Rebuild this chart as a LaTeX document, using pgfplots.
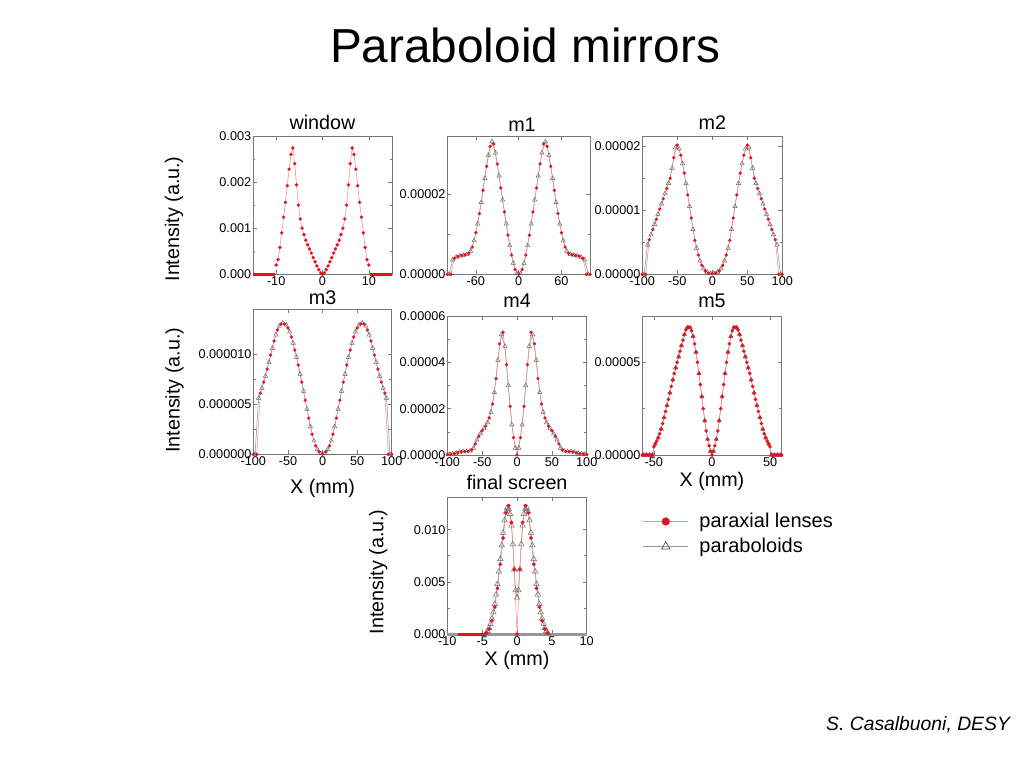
\documentclass[border=0pt]{standalone}
\usepackage{pgfplots}
\pgfplotsset{compat=1.18}
\usepackage{pgfplotstable}
\usepackage{fontspec}
\setmainfont{Liberation Sans}

\definecolor{parax}{RGB}{228,18,30}
\definecolor{paraxline}{RGB}{242,140,140}
\definecolor{parab}{RGB}{105,105,105}
\definecolor{parabline}{RGB}{150,150,150}
\definecolor{framec}{RGB}{120,120,120}

% window (paraxial only)
\pgfplotstableread[row sep=\\]{x y\\
-10 0.0002\\ -9.6 0.00032\\ -9.2 0.00058\\ -8.8 0.0009\\ -8.4 0.00124\\ -8.0 0.00156\\ -7.6 0.00192\\ -7.2 0.00228\\ -6.8 0.0026\\ -6.4 0.00274\\ -6.0 0.0024\\ -5.6 0.00194\\ -5.2 0.0015\\ -4.8 0.0012\\ -4.4 0.001\\ -4.0 0.00086\\ -3.6 0.00074\\ -3.2 0.00064\\ -2.8 0.00055\\ -2.4 0.00046\\ -2.0 0.00036\\ -1.6 0.00027\\ -1.2 0.00018\\ -0.8 0.0001\\ -0.4 0.00003\\ 0 0\\
0.4 0.00003\\ 0.8 0.0001\\ 1.2 0.00018\\ 1.6 0.00027\\ 2.0 0.00036\\ 2.4 0.00046\\ 2.8 0.00055\\ 3.2 0.00064\\ 3.6 0.00074\\ 4.0 0.00086\\ 4.4 0.001\\ 4.8 0.0012\\ 5.2 0.0015\\ 5.6 0.00194\\ 6.0 0.0024\\ 6.4 0.00274\\ 6.8 0.0026\\ 7.2 0.00228\\ 7.6 0.00192\\ 8.0 0.00156\\ 8.4 0.00124\\ 8.8 0.0009\\ 9.2 0.00058\\ 9.6 0.00032\\ 10 0.0002\\
}\tWindow

% m1
\pgfplotstableread[row sep=\\]{x y\\
-100 0\\ -97.5 0\\ -95 0\\ -92.5 3.6e-6\\ -90 4.0e-6\\ -87.5 4.3e-6\\ -85 4.5e-6\\ -82.5 4.6e-6\\ -80 4.7e-6\\ -77.5 4.8e-6\\ -75 4.9e-6\\ -72.5 5.0e-6\\ -70 5.2e-6\\ -67.5 5.8e-6\\ -65 6.8e-6\\ -62.5 8.4e-6\\ -60 10.4e-6\\ -57.5 12.6e-6\\ -55 15.2e-6\\ -52.5 18.0e-6\\ -50 21.0e-6\\ -47.5 24.0e-6\\ -45 27.0e-6\\ -42.5 29.8e-6\\ -40 32.0e-6\\ -37.5 33.2e-6\\ -35 32.6e-6\\ -32.5 30.4e-6\\ -30 27.6e-6\\ -27.5 24.6e-6\\ -25 21.6e-6\\ -22.5 18.6e-6\\ -20 15.6e-6\\ -17.5 12.6e-6\\ -15 9.8e-6\\ -12.5 7.2e-6\\ -10 4.8e-6\\ -7.5 2.8e-6\\ -5 1.2e-6\\ -2.5 0.2e-6\\ 0 0\\
2.5 0.2e-6\\ 5 1.2e-6\\ 7.5 2.8e-6\\ 10 4.8e-6\\ 12.5 7.2e-6\\ 15 9.8e-6\\ 17.5 12.6e-6\\ 20 15.6e-6\\ 22.5 18.6e-6\\ 25 21.6e-6\\ 27.5 24.6e-6\\ 30 27.6e-6\\ 32.5 30.4e-6\\ 35 32.6e-6\\ 37.5 33.2e-6\\ 40 32.0e-6\\ 42.5 29.8e-6\\ 45 27.0e-6\\ 47.5 24.0e-6\\ 50 21.0e-6\\ 52.5 18.0e-6\\ 55 15.2e-6\\ 57.5 12.6e-6\\ 60 10.4e-6\\ 62.5 8.4e-6\\ 65 6.8e-6\\ 67.5 5.8e-6\\ 70 5.2e-6\\ 72.5 5.0e-6\\ 75 4.9e-6\\ 77.5 4.8e-6\\ 80 4.7e-6\\ 82.5 4.6e-6\\ 85 4.5e-6\\ 87.5 4.3e-6\\ 90 4.0e-6\\ 92.5 3.6e-6\\ 95 0\\ 97.5 0\\ 100 0\\
}\tMone

% m2
\pgfplotstableread[row sep=\\]{x y\\
-100 0\\ -97.5 0\\ -95 0\\ -92.5 4.6e-6\\ -90 5.4e-6\\ -87.5 6.2e-6\\ -85 7.0e-6\\ -82.5 7.8e-6\\ -80 8.6e-6\\ -77.5 9.4e-6\\ -75 10.2e-6\\ -72.5 11.0e-6\\ -70 11.8e-6\\ -67.5 12.6e-6\\ -65 13.4e-6\\ -62.5 14.2e-6\\ -60 15.0e-6\\ -57.5 16.6e-6\\ -55 18.2e-6\\ -52.5 19.8e-6\\ -50 20.2e-6\\ -47.5 19.6e-6\\ -45 18.6e-6\\ -42.5 17.3e-6\\ -40 15.8e-6\\ -37.5 14.2e-6\\ -35 12.4e-6\\ -32.5 10.6e-6\\ -30 8.8e-6\\ -27.5 7.0e-6\\ -25 5.3e-6\\ -22.5 4.1e-6\\ -20 3.0e-6\\ -17.5 2.1e-6\\ -15 1.4e-6\\ -12.5 0.9e-6\\ -10 0.5e-6\\ -7.5 0.35e-6\\ -5 0.2e-6\\ -2.5 0.15e-6\\ 0 0.1e-6\\
2.5 0.15e-6\\ 5 0.2e-6\\ 7.5 0.35e-6\\ 10 0.5e-6\\ 12.5 0.9e-6\\ 15 1.4e-6\\ 17.5 2.1e-6\\ 20 3.0e-6\\ 22.5 4.1e-6\\ 25 5.3e-6\\ 27.5 7.0e-6\\ 30 8.8e-6\\ 32.5 10.6e-6\\ 35 12.4e-6\\ 37.5 14.2e-6\\ 40 15.8e-6\\ 42.5 17.3e-6\\ 45 18.6e-6\\ 47.5 19.6e-6\\ 50 20.2e-6\\ 52.5 19.8e-6\\ 55 18.2e-6\\ 57.5 16.6e-6\\ 60 15.0e-6\\ 62.5 14.2e-6\\ 65 13.4e-6\\ 67.5 12.6e-6\\ 70 11.8e-6\\ 72.5 11.0e-6\\ 75 10.2e-6\\ 77.5 9.4e-6\\ 80 8.6e-6\\ 82.5 7.8e-6\\ 85 7.0e-6\\ 87.5 6.2e-6\\ 90 5.4e-6\\ 92.5 4.6e-6\\ 95 0\\ 97.5 0\\ 100 0\\
}\tMtwo

% m3
\pgfplotstableread[row sep=\\]{x y\\
-100 0\\ -97.5 0\\ -95 0\\ -92.5 5.6e-6\\ -90 6.1e-6\\ -87.5 6.6e-6\\ -85 7.2e-6\\ -82.5 7.8e-6\\ -80 8.5e-6\\ -77.5 9.2e-6\\ -75 9.9e-6\\ -72.5 10.6e-6\\ -70 11.3e-6\\ -67.5 11.9e-6\\ -65 12.4e-6\\ -62.5 12.8e-6\\ -60 13.0e-6\\ -57.5 13.1e-6\\ -55 13.0e-6\\ -52.5 12.9e-6\\ -50 12.6e-6\\ -47.5 12.2e-6\\ -45 11.7e-6\\ -42.5 11.1e-6\\ -40 10.4e-6\\ -37.5 9.7e-6\\ -35 8.9e-6\\ -32.5 8.0e-6\\ -30 7.2e-6\\ -27.5 6.3e-6\\ -25 5.4e-6\\ -22.5 4.5e-6\\ -20 3.6e-6\\ -17.5 2.75e-6\\ -15 2.0e-6\\ -12.5 1.35e-6\\ -10 0.85e-6\\ -7.5 0.5e-6\\ -5 0.25e-6\\ -2.5 0.08e-6\\ 0 0\\
2.5 0.08e-6\\ 5 0.25e-6\\ 7.5 0.5e-6\\ 10 0.85e-6\\ 12.5 1.35e-6\\ 15 2.0e-6\\ 17.5 2.75e-6\\ 20 3.6e-6\\ 22.5 4.5e-6\\ 25 5.4e-6\\ 27.5 6.3e-6\\ 30 7.2e-6\\ 32.5 8.0e-6\\ 35 8.9e-6\\ 37.5 9.7e-6\\ 40 10.4e-6\\ 42.5 11.1e-6\\ 45 11.7e-6\\ 47.5 12.2e-6\\ 50 12.6e-6\\ 52.5 12.9e-6\\ 55 13.0e-6\\ 57.5 13.1e-6\\ 60 13.0e-6\\ 62.5 12.8e-6\\ 65 12.4e-6\\ 67.5 11.9e-6\\ 70 11.3e-6\\ 72.5 10.6e-6\\ 75 9.9e-6\\ 77.5 9.2e-6\\ 80 8.5e-6\\ 82.5 7.8e-6\\ 85 7.2e-6\\ 87.5 6.6e-6\\ 90 6.1e-6\\ 92.5 5.6e-6\\ 95 0\\ 97.5 0\\ 100 0\\
}\tMthree

% m4
\pgfplotstableread[row sep=\\]{x y\\
-100 0.2e-6\\ -97.5 0.3e-6\\ -95 0.4e-6\\ -92.5 0.5e-6\\ -90 0.6e-6\\ -87.5 0.8e-6\\ -85 1.0e-6\\ -82.5 1.2e-6\\ -80 1.4e-6\\ -77.5 1.5e-6\\ -75 1.5e-6\\ -72.5 1.5e-6\\ -70 1.6e-6\\ -67.5 1.8e-6\\ -65 2.2e-6\\ -62.5 3.0e-6\\ -60 4.8e-6\\ -57.5 6.5e-6\\ -55 8.0e-6\\ -52.5 9.2e-6\\ -50 10.5e-6\\ -47.5 11.5e-6\\ -45 12.5e-6\\ -42.5 14e-6\\ -40 16e-6\\ -37.5 18.5e-6\\ -35 22e-6\\ -32.5 27e-6\\ -30 33e-6\\ -27.5 41e-6\\ -25 48e-6\\ -22.5 52e-6\\ -20 53e-6\\ -17.5 47e-6\\ -15 39e-6\\ -12.5 30e-6\\ -10 21e-6\\ -7.5 13e-6\\ -5 7.5e-6\\ -2.5 3.0e-6\\ 0 0\\
2.5 3.0e-6\\ 5 7.5e-6\\ 7.5 13e-6\\ 10 21e-6\\ 12.5 30e-6\\ 15 39e-6\\ 17.5 47e-6\\ 20 53e-6\\ 22.5 52e-6\\ 25 48e-6\\ 27.5 41e-6\\ 30 33e-6\\ 32.5 27e-6\\ 35 22e-6\\ 37.5 18.5e-6\\ 40 16e-6\\ 42.5 14e-6\\ 45 12.5e-6\\ 47.5 11.5e-6\\ 50 10.5e-6\\ 52.5 9.2e-6\\ 55 8.0e-6\\ 57.5 6.5e-6\\ 60 4.8e-6\\ 62.5 3.0e-6\\ 65 2.2e-6\\ 67.5 1.8e-6\\ 70 1.6e-6\\ 72.5 1.5e-6\\ 75 1.5e-6\\ 77.5 1.5e-6\\ 80 1.4e-6\\ 82.5 1.2e-6\\ 85 1.0e-6\\ 87.5 0.8e-6\\ 90 0.6e-6\\ 92.5 0.5e-6\\ 95 0.4e-6\\ 97.5 0.3e-6\\ 100 0.2e-6\\
}\tMfour

% m5
\pgfplotstableread[row sep=\\]{x y\\
-60 0\\ -58.75 0\\ -57.5 0\\ -56.25 0\\ -55 0\\ -53.75 0\\ -52.5 0\\ -51.25 0\\ -50 4.5e-6\\ -48.75 6e-6\\ -47.5 7.5e-6\\ -46.25 9.3e-6\\ -45 11.5e-6\\ -43.75 14e-6\\ -42.5 17e-6\\ -41.25 20.2e-6\\ -40 23.5e-6\\ -38.75 26.7e-6\\ -37.5 30e-6\\ -36.25 33.5e-6\\ -35 37e-6\\ -33.75 40.5e-6\\ -32.5 44e-6\\ -31.25 47e-6\\ -30 50e-6\\ -28.75 53e-6\\ -27.5 56e-6\\ -26.25 59e-6\\ -25 62e-6\\ -23.75 65e-6\\ -22.5 67.5e-6\\ -21.25 68.7e-6\\ -20 69e-6\\ -18.75 68.7e-6\\ -17.5 67e-6\\ -16.25 64e-6\\ -15 60e-6\\ -13.75 55.5e-6\\ -12.5 50e-6\\ -11.25 44e-6\\ -10 38e-6\\ -8.75 31.5e-6\\ -7.5 25e-6\\ -6.25 18.5e-6\\ -5 13e-6\\ -3.75 8.5e-6\\ -2.5 5e-6\\ -1.25 2e-6\\ 0 0\\
1.25 2e-6\\ 2.5 5e-6\\ 3.75 8.5e-6\\ 5 13e-6\\ 6.25 18.5e-6\\ 7.5 25e-6\\ 8.75 31.5e-6\\ 10 38e-6\\ 11.25 44e-6\\ 12.5 50e-6\\ 13.75 55.5e-6\\ 15 60e-6\\ 16.25 64e-6\\ 17.5 67e-6\\ 18.75 68.7e-6\\ 20 69e-6\\ 21.25 68.7e-6\\ 22.5 67.5e-6\\ 23.75 65e-6\\ 25 62e-6\\ 26.25 59e-6\\ 27.5 56e-6\\ 28.75 53e-6\\ 30 50e-6\\ 31.25 47e-6\\ 32.5 44e-6\\ 33.75 40.5e-6\\ 35 37e-6\\ 36.25 33.5e-6\\ 37.5 30e-6\\ 38.75 26.7e-6\\ 40 23.5e-6\\ 41.25 20.2e-6\\ 42.5 17e-6\\ 43.75 14e-6\\ 45 11.5e-6\\ 46.25 9.3e-6\\ 47.5 7.5e-6\\ 48.75 6e-6\\ 50 4.5e-6\\ 51.25 0\\ 52.5 0\\ 53.75 0\\ 55 0\\ 56.25 0\\ 57.5 0\\ 58.75 0\\ 60 0\\
}\tMfive

% final screen: p = paraxial lenses, q = paraboloids
\pgfplotstableread[row sep=\\]{x p q\\
-4.4 0.0001 0.00015\\ -4.2 0.00025 0.0003\\ -4.0 0.0005 0.0006\\ -3.8 0.0008 0.001\\ -3.6 0.0013 0.0015\\ -3.4 0.0019 0.0021\\ -3.2 0.0026 0.0029\\ -3.0 0.0034 0.0038\\ -2.8 0.0044 0.0048\\ -2.6 0.0055 0.006\\ -2.4 0.0067 0.0072\\ -2.2 0.0079 0.0085\\ -2.0 0.0092 0.0097\\ -1.8 0.0105 0.0109\\ -1.6 0.0116 0.0117\\ -1.4 0.0123 0.0121\\ -1.2 0.0123 0.0120\\ -1.0 0.0118 0.0115\\ -0.8 0.0107 0.0104\\ -0.6 0.0088 0.0086\\ -0.4 0.0062 0.0062\\ -0.2 0.0025 0.0042\\ 0 0 0.0035\\
0.2 0.0025 0.0042\\ 0.4 0.0062 0.0062\\ 0.6 0.0088 0.0086\\ 0.8 0.0107 0.0104\\ 1.0 0.0118 0.0115\\ 1.2 0.0123 0.0120\\ 1.4 0.0123 0.0121\\ 1.6 0.0116 0.0117\\ 1.8 0.0105 0.0109\\ 2.0 0.0092 0.0097\\ 2.2 0.0079 0.0085\\ 2.4 0.0067 0.0072\\ 2.6 0.0055 0.006\\ 2.8 0.0044 0.0048\\ 3.0 0.0034 0.0038\\ 3.2 0.0026 0.0029\\ 3.4 0.0019 0.0021\\ 3.6 0.0013 0.0015\\ 3.8 0.0008 0.001\\ 4.0 0.0005 0.0006\\ 4.2 0.00025 0.0003\\ 4.4 0.0001 0.00015\\
}\tFinal

\pgfplotsset{
  panel/.style={
    scale only axis, anchor=south west, clip=false,
    axis line style={framec, line width=0.6pt},
    every tick/.style={framec, line width=0.5pt},
    major tick length=3pt, minor tick length=1.8pt,
    tick align=inside, scaled ticks=false,
    minor y tick num=1,
    tick label style={font=\fontsize{9.5}{11}\selectfont, text=black},
    yticklabel style={inner xsep=1.2pt},
    xticklabel style={inner ysep=1.5pt},
    title style={font=\fontsize{14.8}{16}\selectfont, anchor=base, at={(axis description cs:0.5,1)}},
    label style={font=\fontsize{14.8}{16}\selectfont},
    filter discard warning=false,
  },
  redp/.style={color=paraxline, line width=0.4pt, mark=*, mark size=1.2pt,
    mark options={draw=parax, fill=parax, line width=0.1pt}},
  trip/.style={color=parabline, line width=0.4pt, mark=triangle, mark size=1.9pt,
    mark options={draw=parab, line width=0.35pt}},
  evenpts/.style={x filter/.code={\ifodd\coordindex\def\pgfmathresult{}\fi}},
  oddpts/.style={x filter/.code={\ifodd\coordindex\else\def\pgfmathresult{}\fi}},
}

\begin{document}
\begin{tikzpicture}
\fill[white] (0pt,0pt) rectangle (768pt,576pt);
\path[use as bounding box] (0pt,0pt) rectangle (768pt,576pt);

\node[anchor=base, font=\fontsize{35.8}{40}\selectfont] at (393.75pt,528.75pt) {Paraboloid mirrors};
\node[anchor=base east, font=\fontsize{14.5}{16}\selectfont\itshape] at (761pt,28pt) {S. Casalbuoni, DESY};

% window
\begin{axis}[panel, at={(189.75pt,370.3pt)}, width=104.25pt, height=103.7pt,
  xmin=-15, xmax=15, ymin=0, ymax=0.003,
  xtick={-10,0,10}, xticklabels={-10,0,10},
  ytick={0,0.001,0.002,0.003}, yticklabels={0.000,0.001,0.002,0.003},
  title={window}, title style={yshift=-1.5pt},
  ylabel={Intensity (a.u.)}, ylabel style={at={(axis description cs:-0.568,0.40)}, anchor=center}]
\addplot[parax, line width=2pt] coordinates {(-15,0) (-10.2,0)};
\addplot[parax, line width=2pt] coordinates {(10.2,0) (15,0)};
\addplot[redp, mark size=1.25pt] table[x=x,y=y] {\tWindow};
\end{axis}

% m1
\begin{axis}[panel, at={(335.5pt,370.3pt)}, width=107pt, height=103.7pt,
  xmin=-100, xmax=100, ymin=0, ymax=3.46e-5,
  xtick={-60,0,60}, xticklabels={-60,0,60},
  ytick={0,0.00002}, yticklabels={0.00000,0.00002},
  title={m1}, title style={yshift=-2.65pt, xshift=2.5pt}]
\addplot[trip, oddpts] table[x=x,y=y] {\tMone};
\addplot[redp, evenpts] table[x=x,y=y] {\tMone};
\end{axis}

% m2
\begin{axis}[panel, at={(481.7pt,370.3pt)}, width=105pt, height=103.7pt,
  xmin=-100, xmax=100, ymin=0, ymax=2.16e-5,
  xtick={-100,-50,0,50,100}, xticklabels={-100,-50,0,50,100},
  ytick={0,0.00001,0.00002}, yticklabels={0.00000,0.00001,0.00002},
  title={m2}, title style={yshift=-1.15pt}]
\addplot[trip, oddpts] table[x=x,y=y] {\tMtwo};
\addplot[redp, evenpts] table[x=x,y=y] {\tMtwo};
\end{axis}

% m3
\begin{axis}[panel, at={(190pt,235.3pt)}, width=103.8pt, height=109pt,
  xmin=-100, xmax=100, ymin=0, ymax=1.45e-5,
  xtick={-100,-50,0,50,100}, xticklabels={-100,-50,0,50,100},
  ytick={0,0.000005,0.00001}, yticklabels={0.000000,0.000005,0.000010},
  title={m3}, title style={yshift=-2.6pt},
  ylabel={Intensity (a.u.)}, ylabel style={at={(axis description cs:-0.57,0.44)}, anchor=center},
  xlabel={X (mm)}, xlabel style={at={(axis description cs:0.5,-0.235)}, anchor=center}]
\addplot[trip, oddpts] table[x=x,y=y] {\tMthree};
\addplot[redp, evenpts] table[x=x,y=y] {\tMthree};
\end{axis}

% m4
\begin{axis}[panel, at={(335.5pt,234.75pt)}, width=104.55pt, height=104.25pt,
  xmin=-100, xmax=100, ymin=0, ymax=6e-5,
  xtick={-100,-50,0,50,100}, xticklabels={-100,-50,0,50,100},
  ytick={0,0.00002,0.00004,0.00006}, yticklabels={0.00000,0.00002,0.00004,0.00006},
  title={m4}, title style={yshift=0.4pt}]
\addplot[trip, oddpts] table[x=x,y=y] {\tMfour};
\addplot[redp, evenpts] table[x=x,y=y] {\tMfour};
\end{axis}

% m5
\begin{axis}[panel, at={(481.7pt,234.75pt)}, width=104.55pt, height=104.25pt,
  xmin=-60, xmax=60, ymin=0, ymax=7.5e-5,
  xtick={-50,0,50}, xticklabels={-50,0,50},
  ytick={0,0.00005}, yticklabels={0.00000,0.00005},
  title={m5}, title style={yshift=0.4pt},
  xlabel={X (mm)}, xlabel style={at={(axis description cs:0.5,-0.187)}, anchor=center}]
\addplot[trip, oddpts] table[x=x,y=y] {\tMfive};
\addplot[redp, mark size=1.3pt] table[x=x,y=y] {\tMfive};
\end{axis}

% final screen
\begin{axis}[panel, at={(335.5pt,100.3pt)}, width=104.55pt, height=102.75pt,
  xmin=-10, xmax=10, ymin=0, ymax=0.0131,
  xtick={-10,-5,0,5,10}, xticklabels={-10,-5,0,5,10},
  ytick={0,0.005,0.01}, yticklabels={0.000,0.005,0.010},
  title={final screen}, title style={yshift=-0.5pt},
  ylabel={Intensity (a.u.)}, ylabel style={at={(axis description cs:-0.495,0.455)}, anchor=center},
  xlabel={X (mm)}, xlabel style={at={(axis description cs:0.5,-0.19)}, anchor=center},
  legend style={at={(axis description cs:1.40,0.905)}, anchor=north west, draw=none, fill=none,
    font=\fontsize{15}{17}\selectfont, row sep=2.5pt, column sep=6pt, inner sep=0pt},
  legend cell align=left,
  legend image code/.code={\draw[mark repeat=2,mark phase=2,#1] plot coordinates {(0pt,0pt) (17pt,0pt) (34pt,0pt)};}]
\addplot[parabline, line width=2pt, forget plot] coordinates {(-10,0) (10,0)};
\addplot[parax, line width=2pt, forget plot] coordinates {(-8.5,0) (-4.4,0)};
\addplot[trip, mark size=2.4pt, forget plot] table[x=x,y=q] {\tFinal};
\addplot[redp, mark size=1.4pt, evenpts, forget plot] table[x=x,y=p] {\tFinal};
\addlegendimage{paraxline, line width=0.5pt, mark=*, mark size=2.8pt, mark options={draw=parax, fill=parax}}
\addlegendentry{paraxial lenses}
\addlegendimage{parabline, line width=0.5pt, mark=triangle, mark size=3.6pt, mark options={draw=black!70, line width=0.5pt}}
\addlegendentry{paraboloids}
\end{axis}
\end{tikzpicture}
\end{document}
